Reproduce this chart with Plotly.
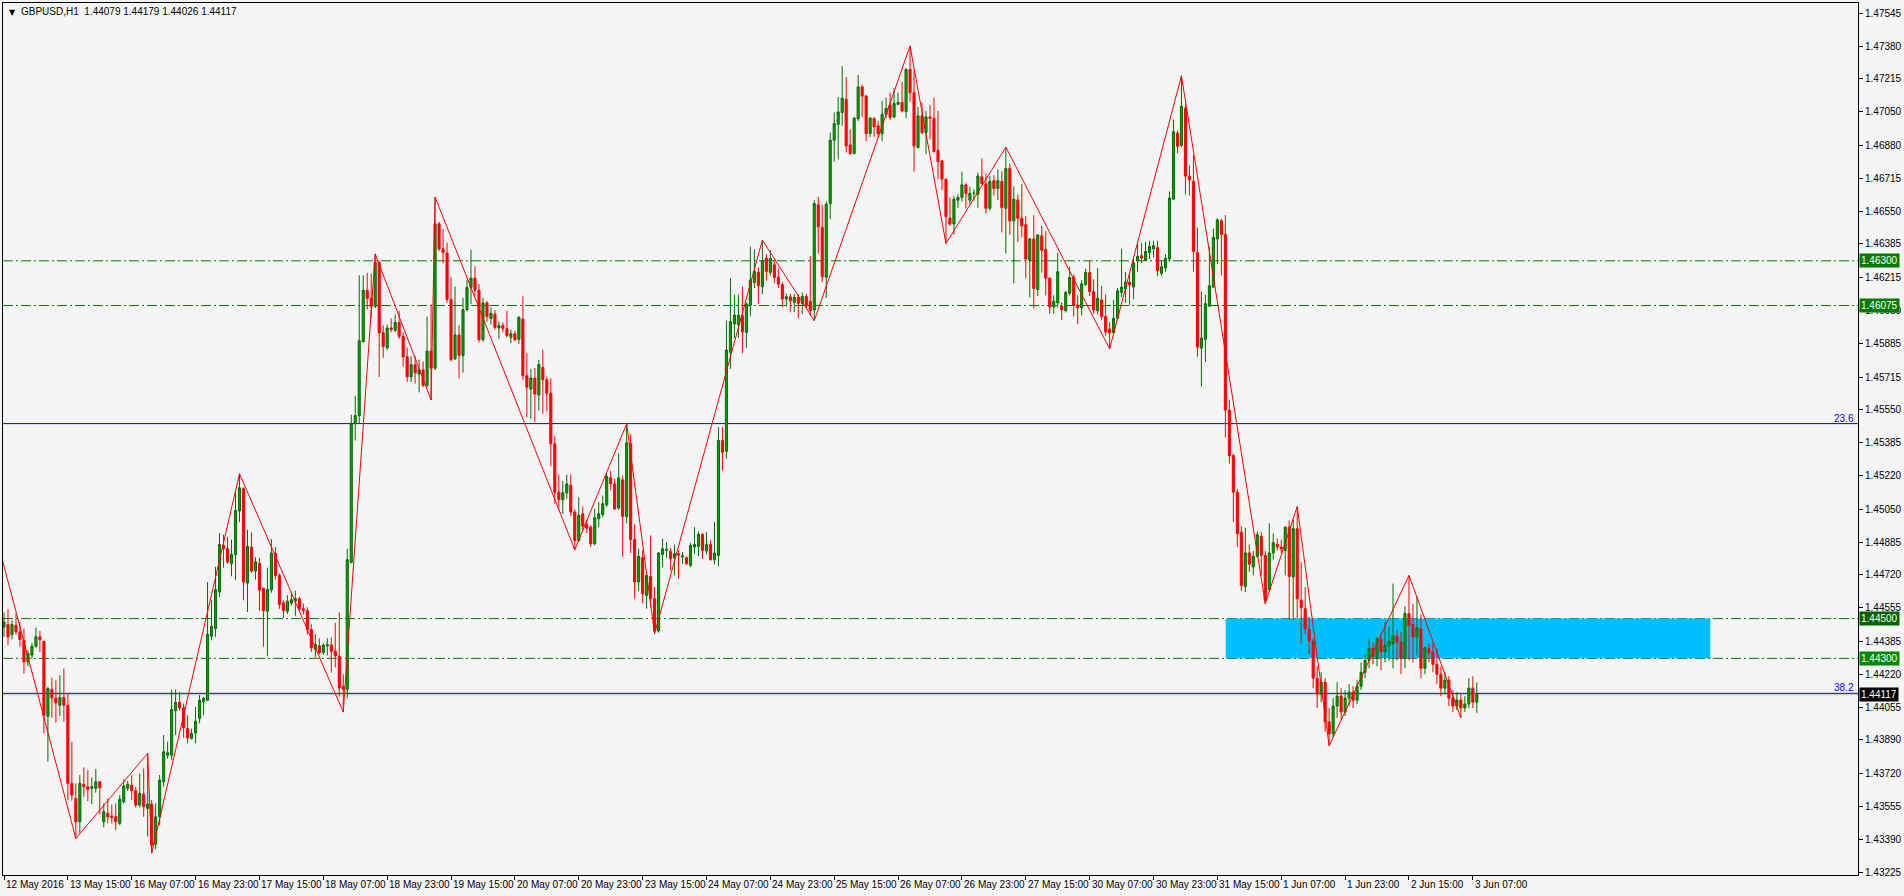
import plotly.graph_objects as go

# ------------------------------------------------------------------ data
open_prices = [
    1.44458, 1.44470, 1.44419, 1.44466, 1.44433, 1.44391, 1.44282, 1.44316, 1.44361, 1.44408,
    1.44386, 1.44009, 1.44143, 1.44101, 1.44064, 1.44103, 1.44064, 1.43671, 1.43595, 1.43478,
    1.43666, 1.43654, 1.43646, 1.43646, 1.43679, 1.43478, 1.43520, 1.43507, 1.43503, 1.43470,
    1.43579, 1.43646, 1.43662, 1.43634, 1.43562, 1.43617, 1.43545, 1.43567, 1.43365, 1.43503,
    1.43679, 1.43813, 1.43813, 1.44036, 1.44078, 1.44051, 1.43947, 1.43897, 1.43925, 1.43997,
    1.44081, 1.44089, 1.44411, 1.44450, 1.44634, 1.44868, 1.44852, 1.44776, 1.44821, 1.45041,
    1.45153, 1.44679, 1.44860, 1.44739, 1.44779, 1.44653, 1.44537, 1.44644, 1.44829, 1.44717,
    1.44580, 1.44537, 1.44578, 1.44588, 1.44600, 1.44549, 1.44540, 1.44445, 1.44346, 1.44363,
    1.44329, 1.44363, 1.44367, 1.44336, 1.44310, 1.44159, 1.44145, 1.44782, 1.45483, 1.45521,
    1.45893, 1.46152, 1.46111, 1.46071, 1.46292, 1.45938, 1.45863, 1.45962, 1.45950, 1.45990,
    1.45920, 1.45817, 1.45716, 1.45777, 1.45730, 1.45751, 1.45673, 1.45846, 1.45760, 1.46486,
    1.46360, 1.46339, 1.46106, 1.45806, 1.45927, 1.45824, 1.46054, 1.46166, 1.46213, 1.46152,
    1.45903, 1.46088, 1.46010, 1.46032, 1.45962, 1.45974, 1.45958, 1.45915, 1.45933, 1.45905,
    1.46007, 1.45722, 1.45655, 1.45709, 1.45625, 1.45763, 1.45702, 1.45634, 1.45379, 1.45136,
    1.45098, 1.45133, 1.45170, 1.45036, 1.44893, 1.45027, 1.44974, 1.44960, 1.44877, 1.45002,
    1.45024, 1.45073, 1.45208, 1.45178, 1.45056, 1.45198, 1.45014, 1.45379, 1.44898, 1.44684,
    1.44806, 1.44617, 1.44712, 1.44600, 1.44438, 1.44823, 1.44843, 1.44838, 1.44805, 1.44826,
    1.44810, 1.44806, 1.44768, 1.44860, 1.44863, 1.44923, 1.44840, 1.44873, 1.44796, 1.44818,
    1.45396, 1.45342, 1.45840, 1.45982, 1.45979, 1.46024, 1.45940, 1.46077, 1.46191, 1.46242,
    1.46170, 1.46312, 1.46242, 1.46280, 1.46217, 1.46180, 1.46108, 1.46119, 1.46091, 1.46116,
    1.46086, 1.46121, 1.46096, 1.46052, 1.46582, 1.46468, 1.46217, 1.46588, 1.46907, 1.46987,
    1.47046, 1.47113, 1.46883, 1.46840, 1.47015, 1.47175, 1.47129, 1.46940, 1.47015, 1.46979,
    1.46940, 1.47037, 1.47084, 1.47024, 1.47087, 1.47096, 1.47051, 1.47263, 1.47146, 1.46870,
    1.47029, 1.46945, 1.47024, 1.47017, 1.46856, 1.46803, 1.46711, 1.46515, 1.46485, 1.46605,
    1.46619, 1.46682, 1.46605, 1.46639, 1.46635, 1.46722, 1.46687, 1.46564, 1.46703, 1.46664,
    1.46699, 1.46564, 1.46764, 1.46501, 1.46606, 1.46514, 1.46482, 1.46303, 1.46410, 1.46155,
    1.46426, 1.46357, 1.46212, 1.46068, 1.46088, 1.46072, 1.46049, 1.46137, 1.46216, 1.46078,
    1.46064, 1.46180, 1.46241, 1.46145, 1.46049, 1.46103, 1.46020, 1.45957, 1.45938, 1.46011,
    1.46141, 1.46160, 1.46193, 1.46168, 1.46299, 1.46326, 1.46303, 1.46341, 1.46360, 1.46366,
    1.46237, 1.46264, 1.46309, 1.46610, 1.46943, 1.46880, 1.47068, 1.46726, 1.46699, 1.46341,
    1.45861, 1.45905, 1.46072, 1.46168, 1.46410, 1.46501, 1.46433, 1.45549, 1.45320, 1.45136,
    1.44935, 1.44662, 1.44830, 1.44759, 1.44813, 1.44913, 1.44818, 1.44645, 1.44830, 1.44873,
    1.44860, 1.44843, 1.44960, 1.44709, 1.44952, 1.44592, 1.44550, 1.44444, 1.44387, 1.44200,
    1.44120, 1.44180, 1.43980, 1.43920, 1.44060, 1.44110, 1.44030, 1.44100, 1.44130, 1.44090,
    1.44160, 1.44230, 1.44290, 1.44350, 1.44300, 1.44394, 1.44332, 1.44361, 1.44374, 1.44411,
    1.44382, 1.44299, 1.44525, 1.44471, 1.44408, 1.44449, 1.44250, 1.44349, 1.44332, 1.44270,
    1.44220, 1.44150, 1.44190, 1.44100, 1.44060, 1.44090, 1.44050, 1.44070, 1.44150, 1.44079,
]
high_prices = [
    1.44530, 1.44547, 1.44492, 1.44525, 1.44483, 1.44450, 1.44341, 1.44378, 1.44455, 1.44438,
    1.44386, 1.44156, 1.44203, 1.44190, 1.44215, 1.44249, 1.44126, 1.43880, 1.43671, 1.43713,
    1.43751, 1.43738, 1.43701, 1.43743, 1.43679, 1.43570, 1.43595, 1.43565, 1.43570, 1.43612,
    1.43691, 1.43684, 1.43713, 1.43654, 1.43721, 1.43746, 1.43822, 1.43588, 1.43570, 1.43713,
    1.43914, 1.43880, 1.44143, 1.44143, 1.44131, 1.44073, 1.44014, 1.43947, 1.44056, 1.44115,
    1.44106, 1.44684, 1.44592, 1.44760, 1.44930, 1.44922, 1.44910, 1.44897, 1.45136, 1.45229,
    1.45161, 1.44947, 1.44934, 1.44808, 1.44805, 1.44653, 1.44756, 1.44900, 1.44860, 1.44727,
    1.44592, 1.44618, 1.44635, 1.44640, 1.44609, 1.44575, 1.44557, 1.44471, 1.44422, 1.44401,
    1.44376, 1.44401, 1.44405, 1.44479, 1.44531, 1.44220, 1.44851, 1.45526, 1.45621, 1.46227,
    1.46227, 1.46239, 1.46235, 1.46335, 1.46300, 1.45976, 1.45979, 1.46010, 1.46031, 1.46048,
    1.45941, 1.45863, 1.45820, 1.45820, 1.45803, 1.45794, 1.46019, 1.46080, 1.46621, 1.46495,
    1.46460, 1.46391, 1.46218, 1.46170, 1.45976, 1.46114, 1.46204, 1.46356, 1.46273, 1.46183,
    1.46114, 1.46097, 1.46066, 1.46052, 1.45994, 1.45990, 1.46049, 1.45954, 1.45948, 1.46021,
    1.46121, 1.45836, 1.45756, 1.45761, 1.45801, 1.45853, 1.45717, 1.45709, 1.45418, 1.45225,
    1.45191, 1.45225, 1.45225, 1.45049, 1.45111, 1.45064, 1.44997, 1.44969, 1.45052, 1.45086,
    1.45119, 1.45232, 1.45242, 1.45203, 1.45332, 1.45220, 1.45480, 1.45429, 1.44974, 1.44851,
    1.44843, 1.44734, 1.44918, 1.44659, 1.44835, 1.44902, 1.44885, 1.44855, 1.44873, 1.44843,
    1.44835, 1.44813, 1.44880, 1.44960, 1.44938, 1.44930, 1.44935, 1.44893, 1.44985, 1.45463,
    1.45463, 1.45999, 1.46212, 1.46129, 1.46129, 1.46170, 1.46091, 1.46371, 1.46359, 1.46267,
    1.46404, 1.46334, 1.46354, 1.46309, 1.46263, 1.46192, 1.46136, 1.46133, 1.46133, 1.46133,
    1.46141, 1.46133, 1.46325, 1.46605, 1.46622, 1.46582, 1.46598, 1.46945, 1.47046, 1.47124,
    1.47280, 1.47225, 1.46962, 1.47024, 1.47235, 1.47185, 1.47134, 1.47024, 1.47024, 1.47004,
    1.47104, 1.47121, 1.47146, 1.47168, 1.47146, 1.47201, 1.47268, 1.47381, 1.47258, 1.47074,
    1.47096, 1.47054, 1.47084, 1.47121, 1.47054, 1.46806, 1.46711, 1.46619, 1.46627, 1.46635,
    1.46749, 1.46690, 1.46672, 1.46660, 1.46744, 1.46815, 1.46741, 1.46726, 1.46731, 1.46760,
    1.46751, 1.46872, 1.46789, 1.46674, 1.46635, 1.46687, 1.46526, 1.46414, 1.46530, 1.46433,
    1.46476, 1.46449, 1.46218, 1.46126, 1.46341, 1.46091, 1.46149, 1.46270, 1.46232, 1.46126,
    1.46203, 1.46260, 1.46299, 1.46207, 1.46264, 1.46174, 1.46130, 1.45991, 1.46103, 1.46164,
    1.46360, 1.46245, 1.46241, 1.46309, 1.46386, 1.46389, 1.46395, 1.46401, 1.46399, 1.46401,
    1.46303, 1.46333, 1.46649, 1.47010, 1.46956, 1.47231, 1.47087, 1.46779, 1.46833, 1.46468,
    1.46145, 1.46130, 1.46372, 1.46462, 1.46514, 1.46510, 1.46530, 1.45600, 1.45330, 1.45150,
    1.44964, 1.44957, 1.44873, 1.44840, 1.44938, 1.44935, 1.44840, 1.44980, 1.44930, 1.44902,
    1.44897, 1.44964, 1.44994, 1.45002, 1.45064, 1.44784, 1.44659, 1.44508, 1.44400, 1.44260,
    1.44230, 1.44200, 1.44050, 1.44100, 1.44180, 1.44150, 1.44140, 1.44170, 1.44160, 1.44190,
    1.44280, 1.44320, 1.44400, 1.44380, 1.44408, 1.44424, 1.44483, 1.44458, 1.44676, 1.44441,
    1.44433, 1.44562, 1.44717, 1.44575, 1.44612, 1.44521, 1.44361, 1.44374, 1.44378, 1.44349,
    1.44260, 1.44230, 1.44210, 1.44140, 1.44130, 1.44120, 1.44110, 1.44200, 1.44210, 1.44179,
]
low_prices = [
    1.44408, 1.44366, 1.44396, 1.44419, 1.44358, 1.44224, 1.44260, 1.44299, 1.44354, 1.44332,
    1.43922, 1.43780, 1.44001, 1.43976, 1.44009, 1.43981, 1.43587, 1.43584, 1.43394, 1.43420,
    1.43604, 1.43582, 1.43567, 1.43624, 1.43517, 1.43450, 1.43470, 1.43470, 1.43436, 1.43461,
    1.43570, 1.43632, 1.43587, 1.43550, 1.43550, 1.43503, 1.43403, 1.43320, 1.43340, 1.43461,
    1.43654, 1.43796, 1.43788, 1.43914, 1.44036, 1.43900, 1.43872, 1.43892, 1.43872, 1.43972,
    1.44014, 1.44086, 1.44391, 1.44408, 1.44609, 1.44756, 1.44776, 1.44713, 1.44693, 1.44986,
    1.44592, 1.44533, 1.44730, 1.44696, 1.44540, 1.44358, 1.44310, 1.44630, 1.44696, 1.44549,
    1.44502, 1.44523, 1.44566, 1.44514, 1.44540, 1.44520, 1.44419, 1.44332, 1.44306, 1.44318,
    1.44318, 1.44315, 1.44228, 1.44254, 1.44108, 1.44030, 1.44099, 1.44779, 1.45396, 1.45483,
    1.45889, 1.46054, 1.46010, 1.46062, 1.45716, 1.45812, 1.45851, 1.45941, 1.45941, 1.45907,
    1.45768, 1.45690, 1.45690, 1.45682, 1.45638, 1.45664, 1.45664, 1.45600, 1.45750, 1.46348,
    1.46287, 1.46088, 1.45794, 1.45803, 1.45708, 1.45737, 1.46045, 1.46083, 1.46123, 1.45889,
    1.45893, 1.45993, 1.45979, 1.45954, 1.45907, 1.45940, 1.45914, 1.45885, 1.45895, 1.45882,
    1.45701, 1.45513, 1.45505, 1.45488, 1.45546, 1.45530, 1.45543, 1.45267, 1.45078, 1.45044,
    1.45027, 1.45103, 1.45016, 1.44846, 1.44885, 1.44944, 1.44930, 1.44860, 1.44868, 1.44960,
    1.45011, 1.45061, 1.45145, 1.45047, 1.45047, 1.44810, 1.44980, 1.44830, 1.44600, 1.44639,
    1.44578, 1.44550, 1.44558, 1.44424, 1.44430, 1.44759, 1.44806, 1.44742, 1.44717, 1.44701,
    1.44776, 1.44771, 1.44759, 1.44826, 1.44815, 1.44801, 1.44823, 1.44793, 1.44773, 1.44763,
    1.45245, 1.45304, 1.45756, 1.45910, 1.45912, 1.45835, 1.45861, 1.46021, 1.46163, 1.46083,
    1.46133, 1.46200, 1.46225, 1.46187, 1.46163, 1.46066, 1.46069, 1.46041, 1.46041, 1.46012,
    1.46032, 1.46062, 1.46024, 1.45999, 1.46337, 1.46192, 1.46113, 1.46510, 1.46799, 1.46811,
    1.46979, 1.46845, 1.46833, 1.46836, 1.47004, 1.47024, 1.46903, 1.46923, 1.46923, 1.46920,
    1.46903, 1.47017, 1.47007, 1.47017, 1.47084, 1.47046, 1.47017, 1.47100, 1.46749, 1.46866,
    1.46937, 1.46836, 1.46912, 1.46845, 1.46711, 1.46655, 1.46387, 1.46476, 1.46431, 1.46565,
    1.46598, 1.46565, 1.46585, 1.46602, 1.46568, 1.46682, 1.46539, 1.46553, 1.46629, 1.46606,
    1.46443, 1.46337, 1.46430, 1.46187, 1.46395, 1.46418, 1.46212, 1.46116, 1.46059, 1.46122,
    1.46241, 1.46126, 1.46034, 1.46034, 1.46065, 1.46001, 1.46040, 1.46126, 1.46020, 1.45982,
    1.46026, 1.46174, 1.46122, 1.46034, 1.46030, 1.46001, 1.45924, 1.45857, 1.45934, 1.46001,
    1.46116, 1.46088, 1.46078, 1.46107, 1.46245, 1.46289, 1.46299, 1.46309, 1.46318, 1.46222,
    1.46226, 1.46245, 1.46303, 1.46606, 1.46841, 1.46872, 1.46635, 1.46630, 1.46245, 1.45818,
    1.45668, 1.45790, 1.46068, 1.46164, 1.46284, 1.46226, 1.45411, 1.45280, 1.44985, 1.44860,
    1.44639, 1.44634, 1.44734, 1.44717, 1.44806, 1.44717, 1.44575, 1.44642, 1.44796, 1.44843,
    1.44830, 1.44717, 1.44495, 1.44491, 1.44500, 1.44374, 1.44424, 1.44320, 1.44150, 1.44050,
    1.44080, 1.43930, 1.43860, 1.43900, 1.44000, 1.43990, 1.44010, 1.44060, 1.44050, 1.44070,
    1.44140, 1.44200, 1.44250, 1.44270, 1.44260, 1.44240, 1.44280, 1.44290, 1.44250, 1.44290,
    1.44220, 1.44250, 1.44290, 1.44280, 1.44315, 1.44200, 1.44220, 1.44280, 1.44230, 1.44170,
    1.44110, 1.44120, 1.44060, 1.44030, 1.44040, 1.44000, 1.44030, 1.44050, 1.44050, 1.44026,
]
close_prices = [
    1.44483, 1.44408, 1.44470, 1.44433, 1.44394, 1.44282, 1.44324, 1.44361, 1.44408, 1.44394,
    1.44014, 1.44148, 1.44101, 1.44076, 1.44103, 1.44064, 1.43671, 1.43612, 1.43478, 1.43671,
    1.43654, 1.43641, 1.43654, 1.43679, 1.43649, 1.43528, 1.43503, 1.43499, 1.43478, 1.43591,
    1.43658, 1.43667, 1.43634, 1.43562, 1.43621, 1.43554, 1.43567, 1.43360, 1.43503, 1.43688,
    1.43830, 1.43825, 1.44043, 1.44078, 1.44051, 1.43952, 1.43900, 1.43922, 1.43984, 1.44089,
    1.44098, 1.44421, 1.44461, 1.44646, 1.44873, 1.44852, 1.44785, 1.44823, 1.45044, 1.45158,
    1.44684, 1.44863, 1.44739, 1.44786, 1.44644, 1.44540, 1.44647, 1.44829, 1.44717, 1.44571,
    1.44540, 1.44588, 1.44595, 1.44600, 1.44549, 1.44540, 1.44445, 1.44353, 1.44370, 1.44329,
    1.44367, 1.44370, 1.44336, 1.44312, 1.44151, 1.44145, 1.44796, 1.45483, 1.45521, 1.45898,
    1.46152, 1.46111, 1.46071, 1.46292, 1.45938, 1.45869, 1.45962, 1.45955, 1.45990, 1.45920,
    1.45817, 1.45716, 1.45777, 1.45737, 1.45751, 1.45673, 1.45846, 1.45760, 1.46486, 1.46360,
    1.46342, 1.46106, 1.45803, 1.45927, 1.45824, 1.46054, 1.46166, 1.46213, 1.46152, 1.45903,
    1.46088, 1.46019, 1.46036, 1.45965, 1.45974, 1.45960, 1.45924, 1.45933, 1.45903, 1.46016,
    1.45722, 1.45664, 1.45711, 1.45630, 1.45778, 1.45702, 1.45634, 1.45379, 1.45136, 1.45099,
    1.45133, 1.45178, 1.45036, 1.44893, 1.45019, 1.44965, 1.44955, 1.44877, 1.45007, 1.45027,
    1.45078, 1.45215, 1.45178, 1.45052, 1.45208, 1.45014, 1.45384, 1.44898, 1.44684, 1.44813,
    1.44625, 1.44717, 1.44600, 1.44438, 1.44830, 1.44851, 1.44848, 1.44801, 1.44826, 1.44820,
    1.44815, 1.44776, 1.44868, 1.44873, 1.44923, 1.44843, 1.44873, 1.44796, 1.44830, 1.45396,
    1.45337, 1.45851, 1.45994, 1.46027, 1.46027, 1.45943, 1.46083, 1.46203, 1.46247, 1.46175,
    1.46300, 1.46247, 1.46312, 1.46217, 1.46183, 1.46108, 1.46119, 1.46099, 1.46116, 1.46086,
    1.46121, 1.46074, 1.46049, 1.46588, 1.46471, 1.46220, 1.46585, 1.46907, 1.46990, 1.47049,
    1.47118, 1.46878, 1.46840, 1.47017, 1.47175, 1.47129, 1.46940, 1.47017, 1.46974, 1.46940,
    1.47037, 1.47067, 1.47021, 1.47091, 1.47096, 1.47054, 1.47263, 1.47146, 1.46878, 1.47029,
    1.46945, 1.47024, 1.47017, 1.46850, 1.46799, 1.46711, 1.46523, 1.46485, 1.46610, 1.46619,
    1.46682, 1.46639, 1.46639, 1.46640, 1.46727, 1.46689, 1.46564, 1.46699, 1.46664, 1.46703,
    1.46568, 1.46764, 1.46501, 1.46610, 1.46514, 1.46476, 1.46309, 1.46410, 1.46161, 1.46430,
    1.46353, 1.46212, 1.46068, 1.46097, 1.46245, 1.46053, 1.46141, 1.46216, 1.46078, 1.46064,
    1.46184, 1.46241, 1.46145, 1.46053, 1.46111, 1.46020, 1.45943, 1.45938, 1.46011, 1.46149,
    1.46168, 1.46193, 1.46180, 1.46289, 1.46322, 1.46314, 1.46347, 1.46372, 1.46376, 1.46251,
    1.46270, 1.46312, 1.46616, 1.46949, 1.46876, 1.47077, 1.46726, 1.46707, 1.46347, 1.45866,
    1.45911, 1.46084, 1.46174, 1.46418, 1.46506, 1.46433, 1.45549, 1.45320, 1.45136, 1.44927,
    1.44667, 1.44830, 1.44773, 1.44813, 1.44922, 1.44818, 1.44592, 1.44830, 1.44882, 1.44860,
    1.44851, 1.44960, 1.44712, 1.44952, 1.44600, 1.44555, 1.44449, 1.44387, 1.44200, 1.44120,
    1.44180, 1.43980, 1.43920, 1.44060, 1.44110, 1.44030, 1.44100, 1.44130, 1.44090, 1.44160,
    1.44230, 1.44290, 1.44350, 1.44310, 1.44399, 1.44332, 1.44366, 1.44387, 1.44416, 1.44382,
    1.44299, 1.44525, 1.44466, 1.44408, 1.44454, 1.44250, 1.44354, 1.44327, 1.44270, 1.44220,
    1.44150, 1.44190, 1.44100, 1.44060, 1.44090, 1.44050, 1.44070, 1.44150, 1.44080, 1.44117,
]
bar_index = list(range(len(open_prices)))

time_tick_index = [0, 16, 32, 48, 64, 80, 96, 112, 128, 144, 160, 176,
                   192, 208, 224, 240, 256, 272, 288, 304, 320, 336, 352, 368]
time_tick_text = ["12 May 2016", "13 May 15:00", "16 May 07:00", "16 May 23:00",
                  "17 May 15:00", "18 May 07:00", "18 May 23:00", "19 May 15:00",
                  "20 May 07:00", "20 May 23:00", "23 May 15:00", "24 May 07:00",
                  "24 May 23:00", "25 May 15:00", "26 May 07:00", "26 May 23:00",
                  "27 May 15:00", "30 May 07:00", "30 May 23:00", "31 May 15:00",
                  "1 Jun 07:00", "1 Jun 23:00", "2 Jun 15:00", "3 Jun 07:00"]

price_ticks = [1.47545, 1.47380, 1.47215, 1.47050, 1.46880, 1.46715, 1.46550, 1.46385,
               1.46215, 1.46050, 1.45885, 1.45715, 1.45550, 1.45385, 1.45220, 1.45050,
               1.44885, 1.44720, 1.44555, 1.44385, 1.44220, 1.44055, 1.43890, 1.43720,
               1.43555, 1.43390, 1.43225]
price_tick_text = ["1.47545", "1.47380", "1.47215", "1.47050", "1.46880", "1.46715",
                   "1.46550", "1.46385", "1.46215", "1.46050", "1.45885", "1.45715",
                   "1.45550", "1.45385", "1.45220", "1.45050", "1.44885", "1.44720",
                   "1.44555", "1.44385", "1.44220", "1.44055", "1.43890", "1.43720",
                   "1.43555", "1.43390", "1.43225"]

zigzag_index = [-6, 18, 36, 37, 59, 85, 93, 107, 108, 143, 156, 163, 190, 203,
                227, 236, 251, 277, 295, 316, 324, 332, 352, 365]
zigzag_price = [1.45220, 1.43394, 1.43822, 1.43320, 1.45229, 1.44030, 1.46335, 1.45600,
                1.46621, 1.44846, 1.45480, 1.44424, 1.46404, 1.45999, 1.47381, 1.46387,
                1.46872, 1.45857, 1.47231, 1.44575, 1.45064, 1.43860, 1.44717, 1.44000]

sr_levels = [1.46300, 1.46075, 1.44500, 1.44300]
sr_label_colors = ["#007C00", "#007C00", "#006400", "#008A00"]
fib_levels = [1.45481, 1.44124]
fib_labels = ["23.6", "38.2"]
bid_price = 1.44117
bid_text = "1.44117"
zone_start, zone_end = 306.1, 427.5
zone_low, zone_high = 1.44300, 1.44500
header_text = "GBPUSD,H1  1.44079 1.44179 1.44026 1.44117"

x_range = [-0.25, 464.5]
y_range = [1.43210, 1.47597]

# ------------------------------------------------------------------ figure
FONT = "Liberation Sans, Arial, sans-serif"
FS = 10
BG = "#F5F5F5"

fig = go.Figure()

fig.add_trace(go.Candlestick(
    x=bar_index, open=open_prices, high=high_prices, low=low_prices, close=close_prices,
    increasing=dict(line=dict(color="#006E00", width=1), fillcolor="#00A000"),
    decreasing=dict(line=dict(color="#FF0000", width=1), fillcolor="#FF0000"),
    whiskerwidth=0, hoverinfo="skip", showlegend=False,
))

fig.add_trace(go.Scatter(
    x=zigzag_index, y=zigzag_price, mode="lines",
    line=dict(color="#FF0000", width=1), hoverinfo="skip", showlegend=False,
))

shapes = []
shapes.append(dict(type="rect", xref="x", yref="y", x0=zone_start, x1=zone_end,
                   y0=zone_low, y1=zone_high, fillcolor="#00BFFF",
                   line=dict(width=0), layer="below"))
for lvl in sr_levels:
    shapes.append(dict(type="line", xref="paper", yref="y", x0=0, x1=1, y0=lvl, y1=lvl,
                       line=dict(color="#007800", width=1, dash="10px,3px,2px,3px"),
                       layer="below"))
shapes.append(dict(type="line", xref="paper", yref="y", x0=0, x1=1, y0=bid_price, y1=bid_price,
                   line=dict(color="#C0C0C0", width=1), layer="below"))
for lvl in fib_levels:
    shapes.append(dict(type="line", xref="paper", yref="y", x0=0, x1=1, y0=lvl, y1=lvl,
                       line=dict(color="#0000FF", width=1), layer="below"))

annotations = []
# header
annotations.append(dict(xref="paper", yref="paper", x=0, y=1, xanchor="left", yanchor="top",
                        xshift=4, yshift=-3, text="▼", showarrow=False,
                        font=dict(family="DejaVu Sans", size=8, color="#000000")))
annotations.append(dict(xref="paper", yref="paper", x=0, y=1, xanchor="left", yanchor="top",
                        xshift=16, yshift=-1, text=header_text, showarrow=False,
                        font=dict(family=FONT, size=FS, color="#000000")))
# time labels (left aligned at the tick)
for idx, txt in zip(time_tick_index, time_tick_text):
    annotations.append(dict(xref="x", yref="paper", x=idx, y=0, xanchor="left", yanchor="top",
                            xshift=0, yshift=-2, text=txt, showarrow=False,
                            font=dict(family=FONT, size=FS, color="#000000")))
# fib labels
for lvl, txt in zip(fib_levels, fib_labels):
    annotations.append(dict(xref="paper", yref="y", x=1, y=lvl, xanchor="right", yanchor="bottom",
                            xshift=-2, yshift=-2, text=txt, showarrow=False,
                            font=dict(family=FONT, size=FS, color="#0000FF")))
# price boxes on the axis
for lvl, col in zip(sr_levels, sr_label_colors):
    annotations.append(dict(xref="paper", yref="y", x=1, y=lvl, xanchor="left", yanchor="middle",
                            xshift=1, text=f"{lvl:.5f}", showarrow=False, bgcolor=col,
                            borderpad=1, font=dict(family=FONT, size=FS, color="#FFFFFF")))
annotations.append(dict(xref="paper", yref="y", x=1, y=bid_price, xanchor="left", yanchor="middle",
                        xshift=1, text=bid_text, showarrow=False, bgcolor="#000000",
                        borderpad=1, font=dict(family=FONT, size=FS, color="#FFFFFF")))

fig.update_layout(
    width=1904, height=896,
    margin=dict(l=2, r=43, t=2, b=21),
    paper_bgcolor=BG, plot_bgcolor=BG,
    showlegend=False, hovermode=False,
    boxgap=0.25,
    shapes=shapes, annotations=annotations,
    xaxis=dict(range=x_range, rangeslider=dict(visible=False), showgrid=False, zeroline=False,
               tickmode="array", tickvals=time_tick_index, ticktext=[""] * len(time_tick_index),
               ticks="outside", ticklen=4, tickcolor="#000000",
               showline=True, linecolor="#000000", linewidth=1, mirror=True, fixedrange=True),
    yaxis=dict(range=y_range, side="right", showgrid=False, zeroline=False,
               tickmode="array", tickvals=price_ticks, ticktext=price_tick_text,
               ticks="outside", ticklen=4, tickcolor="#000000",
               tickfont=dict(family=FONT, size=FS, color="#000000"),
               showline=True, linecolor="#000000", linewidth=1, mirror=True, fixedrange=True),
)

fig.write_html("out.html", config={"displayModeBar": False},
               post_script="document.body.style.margin='0';document.body.style.overflow='hidden';")
